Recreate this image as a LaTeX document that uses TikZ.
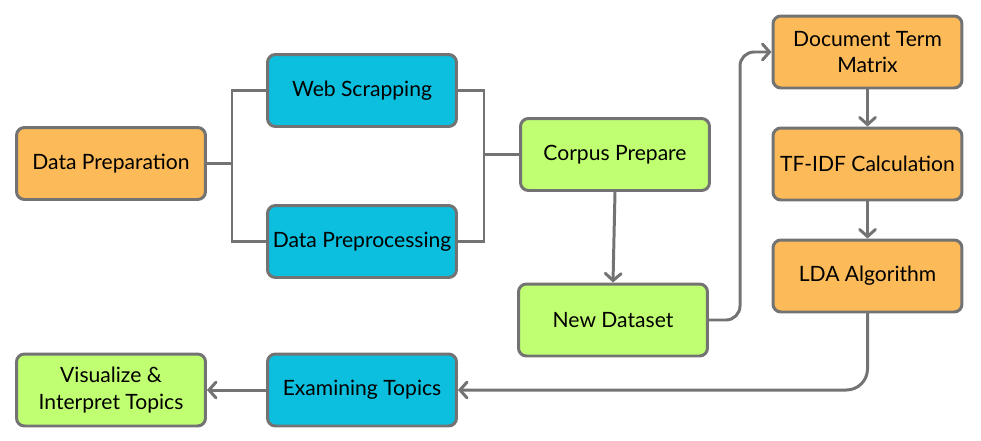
\documentclass[tikz,border=0pt]{standalone}
\usepackage{fontspec}
\setmainfont{Lato}
\usetikzlibrary{arrows.meta}
\definecolor{borderc}{HTML}{737373}
\definecolor{orangec}{HTML}{FDBA58}
\definecolor{cyanc}{HTML}{0CBFDE}
\definecolor{greenc}{HTML}{C1FF72}
\begin{document}
\begin{tikzpicture}[x=0.02cm,y=-0.02cm,
  box/.style={draw=borderc, line width=1.7pt, rounded corners=4.5pt,
    minimum width=3.78cm, minimum height=1.44cm, align=center,
    font=\fontsize{12}{15}\selectfont, inner sep=1pt},
  orangebox/.style={box, fill=orangec},
  cyanbox/.style={box, fill=cyanc},
  greenbox/.style={box, fill=greenc},
  link/.style={draw=borderc, line width=1.7pt},
  arr/.style={link, line cap=round, -{Straight Barb[length=4pt,width=9pt,line cap=round]}}]
\useasboundingbox (0,0) rectangle (981,440);
\node[orangebox] (dp) at (111,163.5) {Data Preparation};
\node[cyanbox] (ws) at (362,90.5) {Web Scrapping};
\node[cyanbox] (pp) at (362,241.5) {Data Preprocessing};
\node[greenbox] (cp) at (615,154.5) {Corpus Prepare};
\node[greenbox] (nd) at (613,320) {New Dataset};
\node[orangebox] (dtm) at (867.5,52) {Document Term\\Matrix};
\node[orangebox] (tf) at (867.5,164) {TF-IDF Calculation};
\node[orangebox] (lda) at (867.5,276) {LDA Algorithm};
\node[cyanbox] (et) at (362,390) {Examining Topics};
\node[greenbox] (vi) at (111,390) {Visualize \&\\Interpret Topics};
\coordinate (jl) at (232,163.5);
\coordinate (jr) at (484,154.5);
\coordinate (k1) at (740,0);
\draw[link] (dp.east) -- (jl);
\draw[link] (ws.west) -| (jl) |- (pp.west);
\draw[link] (ws.east) -| (jr) |- (pp.east);
\draw[link] (jr) -- (cp.west);
\draw[arr] (cp.south) -- (nd.north);
\draw[arr, rounded corners=8pt] (nd.east) -| (k1 |- dtm.west) -- (dtm.west);
\draw[arr] (dtm.south) -- (tf.north);
\draw[arr] (tf.south) -- (lda.north);
\draw[arr, rounded corners=12pt] (lda.south) |- (et.east);
\draw[arr] (et.west) -- (vi.east);
\end{tikzpicture}
\end{document}
